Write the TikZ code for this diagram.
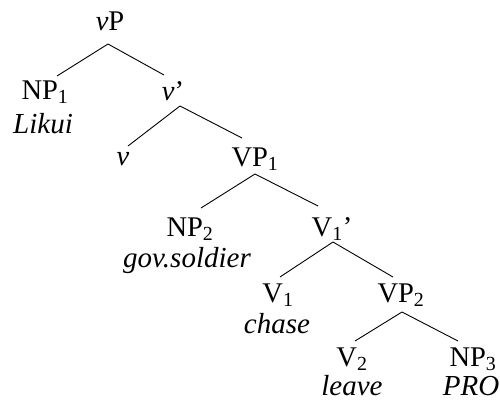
\documentclass[tikz,border=0pt]{standalone}
\usepackage{fontspec}
\setmainfont{Liberation Serif}
\begin{document}
\begin{tikzpicture}[x=1pt,y=-1pt,
  lab/.style={anchor=base,inner sep=0pt,font=\fontsize{28.5}{32}\selectfont},
  word/.style={anchor=base,inner sep=0pt,font=\fontsize{29}{32}\selectfont\itshape},
  edge/.style={draw=black,line width=0.9pt}]
\useasboundingbox (0,0) rectangle (500,402);
\node[lab] (vP) at (110,30) {\textit{v}P};
\node[lab] (NPa) at (45,99) {NP\textsubscript{1}};
\node[word] (likui) at (43,133) {Likui};
\node[lab] (vbar) at (173,100) {\textit{v}’};
\node[lab] (v) at (123,165) {\textit{v}};
\node[lab] (VPa) at (255,166) {VP\textsubscript{1}};
\node[lab] (NPb) at (190,236) {NP\textsubscript{2}};
\node[word] (gov) at (187,267) {gov.soldier};
\node[lab] (Vbar) at (332,236) {V\textsubscript{1}’};
\node[lab] (Va) at (278,302) {V\textsubscript{1}};
\node[word] (chase) at (277,333) {chase};
\node[lab] (VPb) at (401,302) {VP\textsubscript{2}};
\node[lab] (Vb) at (352,366) {V\textsubscript{2}};
\node[word] (leave) at (352,395) {leave};
\node[lab] (NPc) at (473,366) {NP\textsubscript{3}};
\node[word] (pro) at (471,395) {PRO};
\draw[edge] ([shift={(-2,14)}]vP.base) -- ([shift={(12,-23)}]NPa.base);
\draw[edge] ([shift={(-2,14)}]vP.base) -- ([shift={(-9,-25)}]vbar.base);
\draw[edge] ([shift={(7,6)}]vbar.base) -- ([shift={(5,-19)}]v.base);
\draw[edge] ([shift={(7,6)}]vbar.base) -- ([shift={(-13,-28)}]VPa.base);
\draw[edge] ([shift={(0,8)}]VPa.base) -- ([shift={(11,-28)}]NPb.base);
\draw[edge] ([shift={(0,8)}]VPa.base) -- ([shift={(-14,-30)}]Vbar.base);
\draw[edge] ([shift={(1,6)}]Vbar.base) -- ([shift={(2,-25)}]Va.base);
\draw[edge] ([shift={(1,6)}]Vbar.base) -- ([shift={(-8,-25)}]VPb.base);
\draw[edge] ([shift={(1,10)}]VPb.base) -- ([shift={(3,-25)}]Vb.base);
\draw[edge] ([shift={(1,10)}]VPb.base) -- ([shift={(-15,-25)}]NPc.base);
\end{tikzpicture}
\end{document}
